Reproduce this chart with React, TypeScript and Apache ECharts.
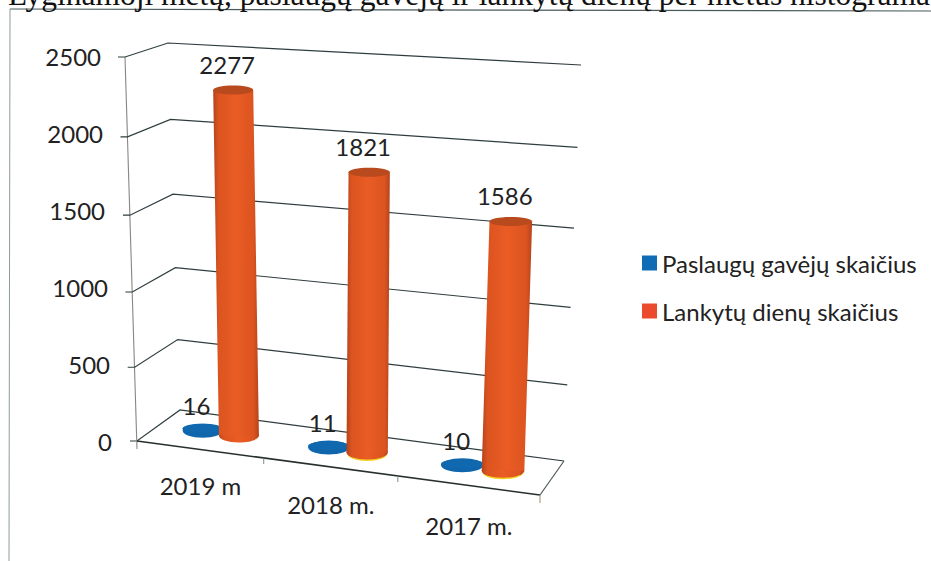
import React, { useEffect, useRef } from "react";
import * as echarts from "echarts";

const titleText = "Lyginamoji metų, paslaugų gavėjų ir lankytų dienų per metus histograma.";
const categories = ["2019 m", "2018 m.", "2017 m."];
const yTicks = [0, 500, 1000, 1500, 2000, 2500];
const seriesNames = ["Paslaugų gavėjų skaičius", "Lankytų dienų skaičius"];
const clients = [16, 11, 10];
const visitDays = [2277, 1821, 1586];

const FONT_FAMILY = "Lato, 'Open Sans', sans-serif";
const FONT_SIZE = 24;
const LABEL_FONT = `${FONT_SIZE}px ${FONT_FAMILY}`;
const TEXT = "#222222";

type Pt = [number, number];
const FL: Pt = [137, 441], FR: Pt = [540, 495], BL: Pt = [180, 410], BR: Pt = [564, 461];
const LFL: Pt = [-12, -384], LFR: Pt = [15, -412], LBL: Pt = [-12, -367], LBR: Pt = [17, -396];
const PERSP = 1.09;

const mix = (a: Pt, b: Pt, t: number): Pt => [a[0] + (b[0] - a[0]) * t, a[1] + (b[1] - a[1]) * t];
const persp = (u: number) => u / (u + PERSP * (1 - u));
// 3D chart-box point: s across, d depth, h height (all 0..1)
const project = (s: number, d: number, h: number): Pt => {
  const base = mix(mix(FL, FR, s), mix(BL, BR, s), d);
  const lift = mix(mix(LFL, LFR, s), mix(LBL, LBR, s), d);
  const k = h * (0.95 + 0.05 * h);
  return [base[0] + lift[0] * k, base[1] + lift[1] * k];
};
const norm = (params: any, api: any, i: number, v: number) => {
  const c = api.coord([i, v]);
  const g = params.coordSys;
  return { u: (c[0] - g.x) / g.width, h: (g.y + g.height - c[1]) / g.height };
};
const line = (a: Pt, b: Pt, stroke: string, lineWidth = 1.3) => ({
  type: "line",
  shape: { x1: a[0], y1: a[1], x2: b[0], y2: b[1] },
  style: { stroke, lineWidth, fill: "none" },
});
const text = (t: string, p: Pt) => ({
  type: "text",
  style: { text: t, x: p[0], y: p[1], fill: TEXT, font: LABEL_FONT, align: "center", verticalAlign: "middle" },
});

const renderGrid = (params: any, api: any) => {
  const { h } = norm(params, api, 0, api.value(1));
  const a = project(0, 0, h), b = project(0, 1, h), c = project(1, 1, h);
  const children: any[] = [
    { type: "polyline", shape: { points: [[a[0] - 7, a[1]], a, b, c] }, style: { stroke: "#2f3d3f", lineWidth: 1.2, fill: "none" } },
  ];
  if (params.dataIndex === 0) {
    const d = project(1, 0, 0);
    children.push(
      line(project(0, 0, 1), [a[0], a[1] + 8], "#8b8580", 1.1),
      line(a, d, "#26302f", 1.6),
      line(c, d, "#4f5a58", 1.2),
      line(d, [d[0], d[1] + 8], "#b59a80", 1.2)
    );
  }
  return { type: "group", children };
};

const renderCategory = (params: any, api: any) => {
  const i = api.value(0);
  const { u } = norm(params, api, i, 0);
  const s = persp(u);
  const p = project(s, 0, 0);
  const edge = project(persp((i + 1) / categories.length), 0, 0);
  const children: any[] = [text(categories[i], [p[0] + 1, p[1] + 35 + 6 * s])];
  if (i < categories.length - 1) children.push(line(edge, [edge[0], edge[1] + 6], "#7d8a88", 1));
  return { type: "group", children };
};

const cylinder = (offset: number, labelUp: number, colors: string[], topColor: string, sole?: string) => (params: any, api: any) => {
  const i = api.value(0), v = api.value(1);
  const { u, h } = norm(params, api, i, v);
  const s = persp(u + offset);
  const b = project(s, 0.52, 0), t = project(s, 0.52, h);
  const band = api.size([1, 0])[0];
  const rx = band * 0.146 * (1 + 0.1 * s), ryB = 7, ryT = 4.5;
  const fill = {
    type: "linear", x: 0, y: 0, x2: 1, y2: 0,
    colorStops: [
      { offset: 0, color: colors[0] },
      { offset: 0.12, color: colors[1] },
      { offset: 0.5, color: colors[2] },
      { offset: 0.88, color: colors[1] },
      { offset: 1, color: colors[0] },
    ],
  };
  const children: any[] = [];
  if (sole && s > 0.3) children.push({ type: "ellipse", shape: { cx: b[0], cy: b[1] + 1.5, rx: rx - 1, ry: ryB }, style: { fill: sole } });
  children.push(
    { type: "ellipse", shape: { cx: b[0], cy: b[1], rx, ry: ryB }, style: { fill } },
    { type: "polygon", shape: { points: [[t[0] - rx, t[1]], [t[0] + rx, t[1]], [b[0] + rx, b[1]], [b[0] - rx, b[1]]] }, style: { fill } },
    { type: "ellipse", shape: { cx: t[0], cy: t[1], rx, ry: ryT }, style: { fill: topColor } },
    text(String(v), [t[0] - 6, t[1] - labelUp])
  );
  return { type: "group", children };
};

export default function App() {
  const ref = useRef<HTMLDivElement>(null);
  useEffect(() => {
    const chart = echarts.init(ref.current!, null, { renderer: "svg" });
    const rich: Record<string, any> = {};
    yTicks.forEach((v) => {
      rich["t" + v] = { fontFamily: FONT_FAMILY, fontSize: FONT_SIZE, color: TEXT, padding: [0, Math.round((v / 2500) * 11), 0, 0] };
    });
    chart.setOption({
      animation: false,
      backgroundColor: "#ffffff",
      grid: { left: 137, top: 56, width: 403, height: 385 },
      xAxis: { type: "category", data: categories, show: false },
      yAxis: {
        type: "value", min: 0, max: 2500, interval: 500,
        axisLine: { show: false }, axisTick: { show: false }, splitLine: { show: false },
        axisLabel: { margin: 25, formatter: (v: number) => `{t${v}|${v}}`, rich },
      },
      legend: {
        orient: "vertical", left: 637, top: 246, itemWidth: 15, itemHeight: 15, itemGap: 24,
        icon: "rect", data: seriesNames, selectedMode: false,
        textStyle: { fontFamily: FONT_FAMILY, fontSize: FONT_SIZE, color: TEXT },
      },
      graphic: [
        { type: "line", shape: { x1: 10, y1: 9, x2: 931, y2: 11 }, style: { stroke: "#4a5a5c", lineWidth: 1.2 } },
        { type: "line", shape: { x1: 10, y1: 9, x2: 9, y2: 561 }, style: { stroke: "#8f9a9a", lineWidth: 1 } },
        { type: "text", x: 8, y: 10, style: { text: titleText, font: "31.5px 'Liberation Serif', serif", fill: "#111111", verticalAlign: "bottom" } },
      ],
      series: [
        { name: "grid", type: "custom", renderItem: renderGrid, data: yTicks.map((v) => [0, v]), encode: { x: 0, y: 1 }, silent: true },
        { name: "cats", type: "custom", renderItem: renderCategory, data: categories.map((_, i) => [i, 0]), encode: { x: 0, y: 1 }, silent: true },
        {
          name: seriesNames[0], type: "custom", itemStyle: { color: "#0f6cb5" },
          renderItem: cylinder(-0.048, 23, ["#0f66ad", "#0f66ad", "#0f66ad"], "#1068ae"),
          data: clients.map((v, i) => [i, v]), encode: { x: 0, y: 1 },
        },
        {
          name: seriesNames[1], type: "custom", itemStyle: { color: "#ec4a2c" },
          renderItem: cylinder(0.05, 26, ["#b4431c", "#dc5420", "#ea5c24"], "#b84a1e", "#f4d020"),
          data: visitDays.map((v, i) => [i, v]), encode: { x: 0, y: 1 },
        },
      ],
    });
    return () => chart.dispose();
  }, []);
  return <div ref={ref} style={{ position: "absolute", left: 0, top: 0, width: 931, height: 561 }} />;
}
